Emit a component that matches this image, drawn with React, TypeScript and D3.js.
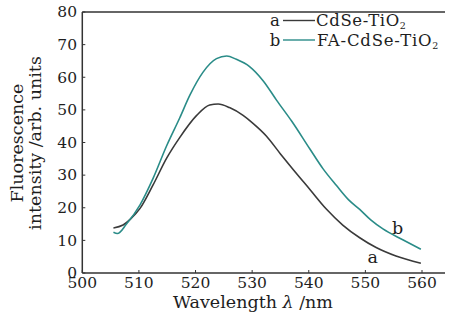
import React from "react";
import * as d3 from "d3";

// spectra
const wavelengthA = [505.5, 507.2, 508.5, 510.2, 512.5, 514.9, 517.2, 520.2, 522.5, 524, 526, 528.4, 530.2, 532.5, 535, 537.2, 540.2, 543.1, 546, 549, 551.9, 555.4, 559.8];
const intensityA = [13.8, 14.7, 16.5, 19.8, 27.0, 35.2, 41.5, 48.3, 51.5, 51.8, 50.7, 48.3, 45.8, 42.0, 36.5, 31.8, 25.6, 19.6, 14.7, 10.8, 7.8, 5.2, 3.0];

const wavelengthB = [505.5, 506.2, 507.8, 510.2, 512.5, 514.9, 517.2, 519, 521.3, 523.7, 525.5, 527.2, 529.6, 532, 534.3, 537, 540.2, 542.5, 544.9, 547, 549, 551, 553.1, 556.6, 559.8];
const intensityB = [12.5, 12.1, 15.0, 20.9, 29.0, 39.0, 47.5, 54.5, 61.5, 65.7, 66.5, 65.5, 63.2, 58.8, 53.0, 46.5, 38.0, 32.0, 26.8, 22.5, 19.5, 16.2, 13.5, 10.2, 7.3];

const xTicks = [500, 510, 520, 530, 540, 550, 560];
const yTicks = [0, 10, 20, 30, 40, 50, 60, 70, 80];

const W = 449;
const H = 323;
const FONT = "'DejaVu Serif', serif";
const colorA = "#3a3a3a";
const colorB = "#2a8c88";
const axisColor = "#333";
const textColor = "#1e1e1e";

export default function App() {
  const x = d3.scaleLinear().domain([500, 560]).range([82.3, 422]);
  const y = d3.scaleLinear().domain([0, 80]).range([273, 12]);
  const right = 445;

  const line = d3
    .line<[number, number]>()
    .x((d) => x(d[0]))
    .y((d) => y(d[1]))
    .curve(d3.curveMonotoneX);

  const ptsA = wavelengthA.map((w, i) => [w, intensityA[i]] as [number, number]);
  const ptsB = wavelengthB.map((w, i) => [w, intensityB[i]] as [number, number]);

  return (
    <svg
      width={W}
      height={H}
      style={{ position: "absolute", left: 0, top: 0, background: "#fff" }}
      fontFamily={FONT}
    >
      {/* frame */}
      <line x1={x(500)} x2={right} y1={y(80)} y2={y(80)} stroke={axisColor} strokeWidth={1.5} />
      <line x1={x(500)} x2={right} y1={y(0)} y2={y(0)} stroke={axisColor} strokeWidth={1.5} />
      <line x1={x(500)} x2={x(500)} y1={y(0)} y2={y(80)} stroke={axisColor} strokeWidth={1.5} />

      {xTicks.map((t) => (
        <g key={"x" + t}>
          <line x1={x(t)} x2={x(t)} y1={y(0)} y2={y(0) - 3} stroke={axisColor} strokeWidth={1} />
          <text x={x(t)} y={287.5} textAnchor="middle" fontSize={15.5} fill={textColor}>
            {t}
          </text>
        </g>
      ))}
      {yTicks.map((t) => (
        <g key={"y" + t}>
          <line x1={x(500)} x2={x(500) + 3} y1={y(t)} y2={y(t)} stroke={axisColor} strokeWidth={1} />
          <text x={77} y={y(t)} dy="0.34em" textAnchor="end" fontSize={15.5} fill={textColor}>
            {t}
          </text>
        </g>
      ))}

      <text x={253} y={307.5} textAnchor="middle" fontSize={17.5} fill={textColor}>
        Wavelength <tspan fontStyle="italic">λ</tspan> /nm
      </text>
      <g transform="translate(0,143) rotate(-90)" fill={textColor} fontSize={17.5} textAnchor="middle">
        <text x={0} y={23}>Fluorescence</text>
        <text x={0} y={41}>intensity /arb. units</text>
      </g>

      <path d={line(ptsA) ?? ""} fill="none" stroke={colorA} strokeWidth={1.6} />
      <path d={line(ptsB) ?? ""} fill="none" stroke={colorB} strokeWidth={1.6} />

      <text x={x(555.7)} y={y(14)} dy="0.36em" textAnchor="middle" fontSize={17.5} fill={textColor}>b</text>
      <text x={x(551.3)} y={y(4.6)} dy="0.3em" textAnchor="middle" fontSize={17.5} fill={textColor}>a</text>

      {/* legend */}
      <g fontSize={16.5} fill={textColor}>
        <text x={275} y={26} textAnchor="middle">a</text>
        <line x1={283} x2={315} y1={20.5} y2={20.5} stroke={colorA} strokeWidth={1.4} />
        <text x={316} y={26} letterSpacing={0.6}>
          CdSe-TiO<tspan fontSize={9.5} dy={3}>2</tspan>
        </text>
        <text x={275} y={45.5} textAnchor="middle">b</text>
        <line x1={283} x2={315} y1={40} y2={40} stroke={colorB} strokeWidth={1.4} />
        <text x={317} y={45.5} letterSpacing={0.8}>
          FA-CdSe-TiO<tspan fontSize={9.5} dy={3}>2</tspan>
        </text>
      </g>
    </svg>
  );
}
